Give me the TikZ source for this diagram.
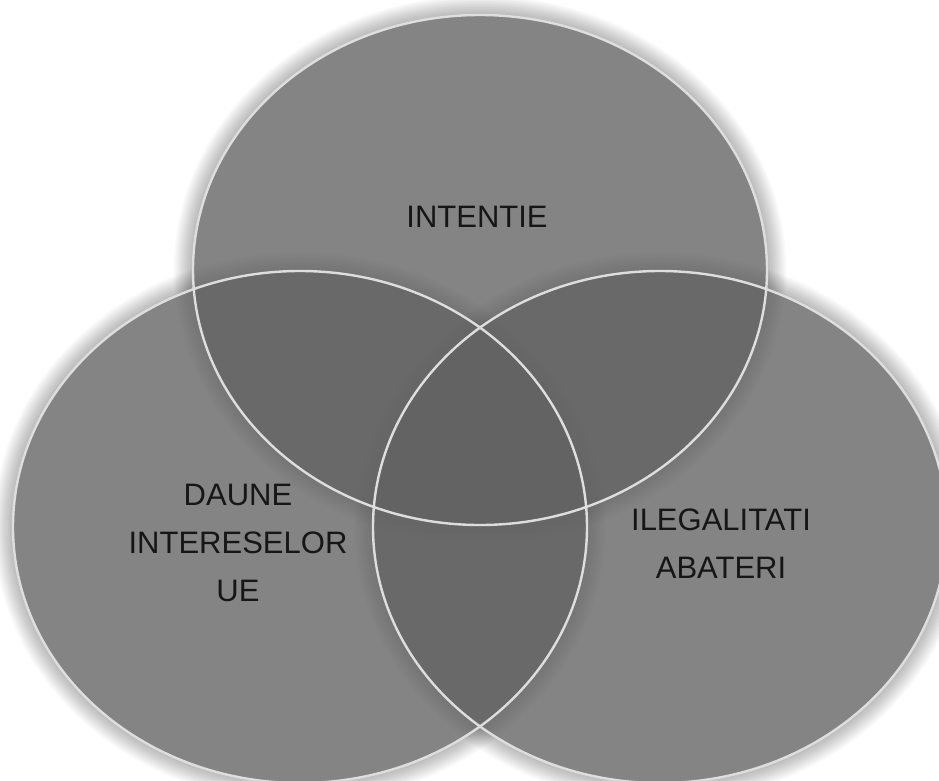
\documentclass[tikz,border=0pt]{standalone}
\usepackage{fontspec}
\setmainfont{Liberation Sans}
\definecolor{vfill}{RGB}{98,98,98}
\definecolor{vline}{RGB}{222,222,222}
\definecolor{vtext}{RGB}{22,22,22}
\tikzset{
  vset/.style={fill=vfill, fill opacity=0.78},
  vedge/.style={draw=vline, line width=2.4pt},
  vglow/.style={fill=black, opacity=0.025, even odd rule},
  lbl/.style={text=vtext, font=\fontsize{31}{48}\selectfont, align=center, inner sep=0pt}
}
\begin{document}
\begin{tikzpicture}[x=1pt,y=-1pt]
\useasboundingbox (0,0) rectangle (939,780);
\fill[white] (0,0) rectangle (939,780);
% soft glow (rings outside each set)
\foreach \cx/\cy/\ry in {480/270/255,300/527/256,660/527/256}{
  \foreach \i in {1,...,12}{
    \fill[vglow] (\cx,\cy) ellipse [x radius={287pt+1.6pt*\i}, y radius={\ry pt+1.6pt*\i}]
                 (\cx,\cy) ellipse [x radius=287pt, y radius=\ry pt];
  }
}
% fills
\fill[vset] (480,270) ellipse [x radius=287pt, y radius=255pt];
\fill[vset] (300,527) ellipse [x radius=287pt, y radius=256pt];
\fill[vset] (660,527) ellipse [x radius=287pt, y radius=256pt];
% outlines
\draw[vedge] (480,270) ellipse [x radius=287pt, y radius=255pt];
\draw[vedge] (300,527) ellipse [x radius=287pt, y radius=256pt];
\draw[vedge] (660,527) ellipse [x radius=287pt, y radius=256pt];
% labels
\node[lbl] (intentie) at (477,217) {INTENTIE};
\node[lbl] (daune) at (238,543) {DAUNE\\INTERESELOR\\UE};
\node[lbl] (ilegal) at (721,544) {ILEGALITATI\\ABATERI};
\end{tikzpicture}
\end{document}
